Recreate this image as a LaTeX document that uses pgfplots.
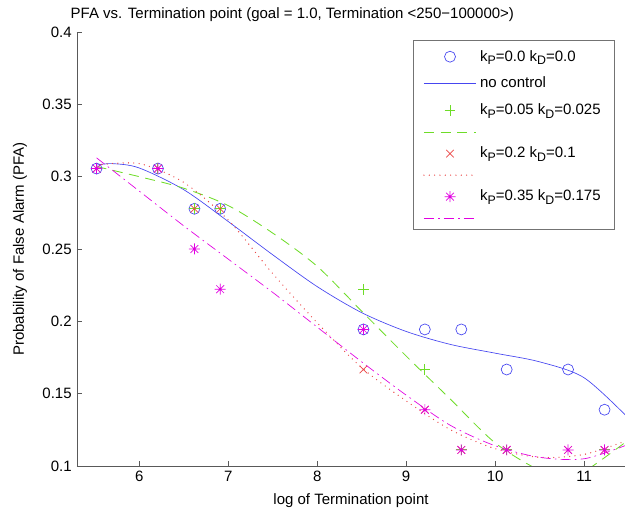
\documentclass[border=0pt]{standalone}
\usepackage{fontspec}
\setmainfont{Liberation Sans}
\usepackage{pgfplots}
\pgfplotsset{compat=1.18}
\definecolor{mblue}{RGB}{70,70,240}
\definecolor{mgreen}{RGB}{110,220,40}
\definecolor{mred}{RGB}{235,70,70}
\definecolor{mmag}{RGB}{225,0,225}
\newcommand\sub[1]{\raisebox{-0.45ex}{\fontsize{7.4pt}{8pt}\selectfont #1}}
% matlab-like 8-ray asterisk
\pgfdeclareplotmark{mstar}{%
  \pgfpathmoveto{\pgfqpoint{-\pgfplotmarksize}{0pt}}%
  \pgfpathlineto{\pgfqpoint{\pgfplotmarksize}{0pt}}%
  \pgfpathmoveto{\pgfqpoint{0pt}{-\pgfplotmarksize}}%
  \pgfpathlineto{\pgfqpoint{0pt}{\pgfplotmarksize}}%
  \pgfpathmoveto{\pgfqpoint{-.707\pgfplotmarksize}{-.707\pgfplotmarksize}}%
  \pgfpathlineto{\pgfqpoint{.707\pgfplotmarksize}{.707\pgfplotmarksize}}%
  \pgfpathmoveto{\pgfqpoint{-.707\pgfplotmarksize}{.707\pgfplotmarksize}}%
  \pgfpathlineto{\pgfqpoint{.707\pgfplotmarksize}{-.707\pgfplotmarksize}}%
  \pgfusepathqstroke}
\pgfplotsset{
  mleg/.style={legend image code/.code={\draw[##1] plot coordinates {(0.55cm,0cm)};}},
  lleg/.style={legend image code/.code={\draw[##1] (0cm,0cm) -- (1.1cm,0cm);}},
}
\begin{document}
\fontsize{9pt}{10.5pt}\selectfont
\begin{tikzpicture}
\begin{axis}[
  scale only axis, width=328.8pt, height=260.4pt,
  xmin=5.3, xmax=11.46, ymin=0.1, ymax=0.4,
  axis x line*=bottom, axis y line*=left,
  axis line style={black!65, -},
  tick style={black!65},
  tick align=inside, major tick length=3pt,
  xtick={6,7,8,9,10,11}, xticklabels={6,7,8,9,10,11},
  ytick={0.1,0.15,0.2,0.25,0.3,0.35,0.4},
  yticklabels={0.1,0.15,0.2,0.25,0.3,0.35,0.4},
  /pgf/number format/assume math mode=true,
  font=\fontsize{9pt}{10.5pt}\selectfont,
  every axis title shift=0pt,
  title={PFA vs. Termination point (goal = 1.0, Termination <250−100000>)},
  title style={at={(axis description cs:0.393,1.041)}, anchor=center},
  xlabel={log of Termination point},
  xlabel style={at={(axis description cs:0.5,-0.08)}, anchor=center},
  ylabel={Probability of False Alarm (PFA)},
  ylabel style={at={(axis description cs:-0.104,0.5)}, anchor=center},
  legend style={at={(0.613,0.982)}, anchor=north west, draw=black!55,
    fill=white, row sep=4.3pt, inner xsep=6pt, inner ysep=4pt},
  legend cell align=left,
]
\coordinate (bl) at (rel axis cs:0,0);
\coordinate (tr) at (rel axis cs:1,1);
% k_P=0.0 k_D=0.0
\addplot[only marks, mark=o, mark size=3.3pt, color=mblue, thin, mleg]
  coordinates {(5.52,0.3056)(6.21,0.3056)(6.62,0.2778)(6.91,0.2778)(8.52,0.1944)
  (9.21,0.1944)(9.62,0.1944)(10.13,0.1667)(10.82,0.1667)(11.23,0.1389)(11.51,0.1389)};
\addlegendentry{k\sub{P}=0.0 k\sub{D}=0.0}
\addplot[smooth, color=mblue, thin, lleg]
  coordinates {(5.52,0.308)(5.7,0.309)(6.0,0.306)(6.5,0.291)(7.0,0.269)(7.5,0.246)
  (8.0,0.224)(8.5,0.206)(9.0,0.193)(9.5,0.184)(10.0,0.178)(10.5,0.172)(11.0,0.161)(11.5,0.133)};
\addlegendentry{no control}
% k_P=0.05 k_D=0.025
\addplot[only marks, mark=+, mark size=3.2pt, color=mgreen, line width=0.6pt, mleg]
  coordinates {(5.52,0.3056)(6.21,0.3056)(6.62,0.2778)(6.91,0.2778)(8.52,0.2222)
  (9.21,0.1667)(9.62,0.1111)(10.13,0.1111)(10.82,0.0833)(11.23,0.1111)};
\addlegendentry{k\sub{P}=0.05 k\sub{D}=0.025}
\addplot[smooth, color=mgreen, line width=0.5pt, dash pattern=on 6pt off 4pt, lleg]
  coordinates {(5.52,0.307)(6.0,0.300)(6.5,0.292)(7.0,0.280)(7.5,0.261)(8.0,0.238)
  (8.5,0.207)(9.0,0.176)(9.5,0.146)(10.0,0.116)(10.5,0.097)(10.8,0.093)(11.0,0.096)(11.5,0.118)};
\addlegendentry{}
% k_P=0.2 k_D=0.1
\addplot[only marks, mark=x, mark size=3.2pt, color=mred, thin, mleg]
  coordinates {(5.52,0.3056)(6.21,0.3056)(6.62,0.2778)(6.91,0.2778)(8.52,0.1667)
  (9.21,0.1389)(9.62,0.1111)(10.13,0.1111)(10.82,0.1111)(11.23,0.1111)};
\addlegendentry{k\sub{P}=0.2 k\sub{D}=0.1}
\addplot[smooth, color=mred, line width=0.8pt, line cap=round, dash pattern=on 0pt off 3.2pt, lleg]
  coordinates {(5.52,0.308)(6.0,0.309)(6.5,0.296)(7.0,0.270)(7.5,0.233)(8.0,0.199)
  (8.5,0.168)(9.0,0.145)(9.5,0.125)(10.0,0.112)(10.5,0.106)(11.0,0.108)(11.5,0.118)};
\addlegendentry{}
% k_P=0.35 k_D=0.175
\addplot[only marks, mark=mstar, mark size=3.3pt, color=mmag, thin, mleg]
  coordinates {(5.52,0.3056)(6.21,0.3056)(6.62,0.25)(6.91,0.2222)(8.52,0.1944)
  (9.21,0.1389)(9.62,0.1111)(10.13,0.1111)(10.82,0.1111)(11.23,0.1111)};
\addlegendentry{k\sub{P}=0.35 k\sub{D}=0.175}
\addplot[smooth, color=mmag, thin, dash pattern=on 6pt off 2.5pt on 1pt off 2.5pt, lleg]
  coordinates {(5.52,0.313)(6.0,0.290)(6.5,0.266)(7.0,0.243)(7.5,0.220)(8.0,0.196)
  (8.5,0.172)(9.0,0.149)(9.5,0.128)(10.0,0.114)(10.5,0.106)(11.0,0.105)(11.5,0.115)};
\addlegendentry{}
\end{axis}
\pgfresetboundingbox
\path ([xshift=-46.2pt,yshift=-28.2pt]bl) rectangle ([yshift=19.2pt]tr);
\end{tikzpicture}
\end{document}
